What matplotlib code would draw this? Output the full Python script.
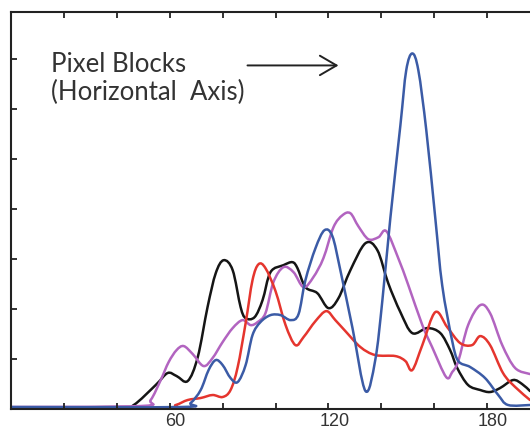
import numpy as np
import matplotlib
matplotlib.use("Agg")
import matplotlib.pyplot as plt
from matplotlib.path import Path
from matplotlib.patches import PathPatch
from matplotlib.transforms import ScaledTranslation

# curve samples (x = pixel block, y = value)
black_x = [0, 41.5, 46.4, 54.7, 59.2, 62.6, 66.8, 70.6, 74.3, 77.4, 80.4, 83.8, 86.8, 88.7,
           92.1, 95.1, 98.1, 103.0, 106.4, 108.3, 111.3, 115.8, 120.0, 123.8, 128.3, 134.0,
           138.5, 142.6, 147.2, 151.7, 157.4, 162.3, 166.0, 168.7, 172.8, 177.4, 181.1,
           184.9, 189.8, 193.2, 196.2]
black_y = [0.03, 0.04, 0.08, 0.48, 0.72, 0.66, 0.56, 1.04, 2.04, 2.72, 2.98, 2.78, 2.04, 1.82,
           1.84, 2.18, 2.74, 2.88, 2.94, 2.82, 2.44, 2.32, 2.02, 2.22, 2.78, 3.32,
           3.18, 2.52, 1.94, 1.52, 1.62, 1.52, 1.18, 0.82, 0.48, 0.38, 0.34,
           0.42, 0.58, 0.50, 0.36]

blue_x = [0, 64.2, 67.9, 71.7, 74.7, 77.4, 80.0, 83.0, 85.7, 88.7, 91.3, 94.3, 98.1, 101.9,
          105.7, 108.7, 111.3, 115.1, 118.5, 121.5, 124.5, 129.1, 134.0, 137.7, 140.4, 143.4,
          147.2, 149.4, 151.7, 154.0, 157.0, 160.4, 163.0, 166.8, 169.1, 173.6, 179.2,
          184.2, 187.9, 196.2]
blue_y = [0.04, 0.04, 0.12, 0.38, 0.78, 0.98, 0.88, 0.62, 0.54, 0.88, 1.48, 1.74, 1.88, 1.88,
          1.78, 1.90, 2.58, 3.22, 3.58, 3.46, 2.78, 1.62, 0.36, 0.98, 2.18, 3.82,
          5.68, 6.78, 7.12, 6.78, 5.58, 3.82, 2.48, 1.36, 0.96, 0.84, 0.62,
          0.28, 0.08, 0.08]

red_x = [0, 56.6, 62.3, 66.8, 71.7, 76.2, 80.0, 83.0, 85.7, 88.7, 91.3, 93.6, 96.2, 100.0,
         103.8, 107.5, 110.6, 115.1, 119.2, 122.6, 126.4, 132.1, 137.7, 145.3, 149.1, 151.7,
         155.5, 160.4, 164.9, 169.8, 174.3, 177.4, 181.1, 186.0, 190.6, 196.2]
red_y = [0.02, 0.02, 0.08, 0.18, 0.22, 0.28, 0.24, 0.38, 0.84, 1.72, 2.58, 2.90, 2.82, 2.36,
         1.68, 1.28, 1.44, 1.76, 1.96, 1.78, 1.56, 1.24, 1.08, 1.06, 0.96, 0.78,
         1.28, 1.94, 1.64, 1.32, 1.28, 1.46, 1.28, 0.72, 0.44, 0.18]

purple_x = [0, 49.1, 52.8, 56.6, 59.6, 62.6, 65.3, 68.7, 72.8, 76.2, 80.0, 83.8, 87.5, 90.6,
            93.2, 96.2, 99.2, 103.0, 106.8, 110.6, 114.3, 118.1, 121.9, 125.3, 128.3, 131.3,
            135.1, 138.9, 141.9, 146.4, 150.2, 155.5, 159.2, 164.5, 166.8, 169.1, 172.8,
            177.4, 181.1, 185.7, 190.6, 196.2]
purple_y = [0.04, 0.06, 0.18, 0.58, 0.94, 1.18, 1.26, 1.10, 0.86, 1.02, 1.34, 1.62, 1.78, 1.68,
            1.74, 1.92, 2.54, 2.84, 2.74, 2.44, 2.64, 3.02, 3.64, 3.88, 3.92, 3.66,
            3.40, 3.44, 3.56, 3.02, 2.48, 1.68, 1.24, 0.64, 0.74, 0.96, 1.68,
            2.08, 1.92, 1.28, 0.82, 0.70]

x_ticks = [20, 40, 60, 80, 100, 120, 140, 160, 180]
x_labels = ["", "", "60", "", "", "120", "", "", "180"]
y_ticks = [1, 2, 3, 4, 5, 6, 7]


def smooth_path(xs, ys):
    # Catmull-Rom through the read points, drawn as cubic bezier segments
    p = np.column_stack([xs, ys]).astype(float)
    p = np.vstack([p[0], p, p[-1]])
    verts = [p[1]]
    codes = [Path.MOVETO]
    for i in range(1, len(p) - 2):
        c1 = p[i] + (p[i + 1] - p[i - 1]) / 6
        c2 = p[i + 1] - (p[i + 2] - p[i]) / 6
        verts += [c1, c2, p[i + 1]]
        codes += [Path.CURVE4] * 3
    return Path(verts, codes)


fig = plt.figure(figsize=(5.30, 4.36), dpi=100)
ax = fig.add_axes([11 / 530, 27 / 436, 1 - 11 / 530, (409 - 12) / 436])

lw = 1.8
series = [(black_x, black_y, "#151515"),
          (purple_x, purple_y, "#b264c0"),
          (red_x, red_y, "#e5352e"),
          (blue_x, blue_y, "#3b5ba6")]
for xs, ys, c in series:
    ax.add_patch(PathPatch(smooth_path(xs, ys), facecolor="none", edgecolor=c, lw=lw,
                           capstyle="round", joinstyle="round"))

ax.set_xlim(0, 196.2)
ax.set_ylim(0, 7.95)

ax.spines["right"].set_visible(False)
for s in ["left", "top", "bottom"]:
    ax.spines[s].set_linewidth(1.5)
    ax.spines[s].set_color("#222222")

ax.set_xticks(x_ticks)
ax.set_xticklabels(x_labels, fontfamily="Liberation Sans", fontsize=13, color="#333333")
ax.set_yticks(y_ticks)
ax.set_yticklabels([])
ax.tick_params(axis="both", direction="in", length=4, width=1.3, color="#222222",
               top=True, bottom=True, left=True, right=False, pad=3)
for lab in ax.get_xticklabels():
    lab.set_transform(lab.get_transform() + ScaledTranslation(6 / 100, 0, fig.dpi_scale_trans))

ax.text(15.1, 6.74, "Pixel Blocks", fontfamily="Lato", fontsize=18.5, color="#333333",
        va="baseline", ha="left")
ax.text(15.1, 6.18, "(Horizontal  Axis)", fontfamily="Lato", fontsize=18.5, color="#333333",
        va="baseline", ha="left")
ax.annotate("", xy=(123.8, 6.88), xytext=(89.4, 6.88),
            arrowprops=dict(arrowstyle="->,head_length=0.6,head_width=0.35",
                            mutation_scale=20, lw=1.4, color="#222222",
                            shrinkA=0, shrinkB=0))

fig.savefig("out.png", dpi=100)
